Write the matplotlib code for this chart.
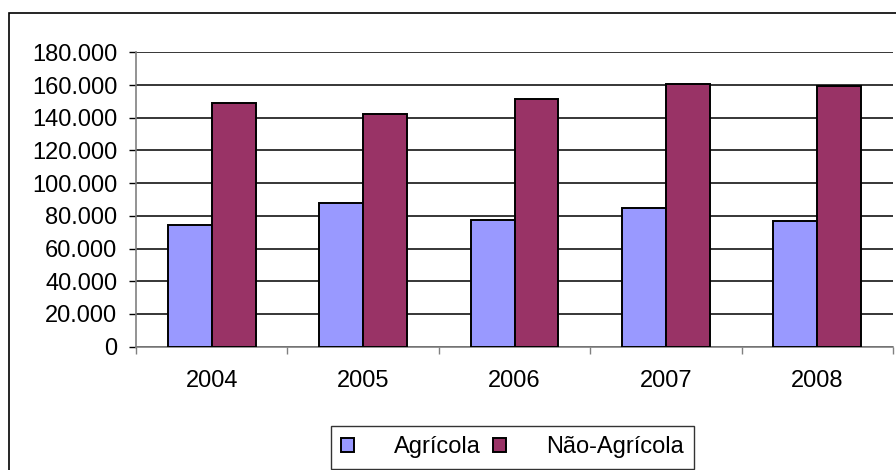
import matplotlib
matplotlib.use("Agg")
import matplotlib.pyplot as plt
import numpy as np
from matplotlib.ticker import FuncFormatter, FixedLocator
from matplotlib.patches import Rectangle

years = ["2004", "2005", "2006", "2007", "2008"]
agricola = [74500, 88000, 77700, 84700, 76700]
nao_agricola = [149200, 142100, 151300, 160600, 159300]
series_names = ["Agrícola", "Não-Agrícola"]
yticks = [0, 20000, 40000, 60000, 80000, 100000, 120000, 140000, 160000, 180000]

plt.rcParams['font.family'] = ['Liberation Sans', 'DejaVu Sans']
FS = 17

fig = plt.figure(figsize=(8.96, 4.70), dpi=100)
top_frac = 1 - 13/470
fig.patches.append(Rectangle((8.5/896, -0.5), 2, top_frac + 0.5, transform=fig.transFigure,
                             fill=False, edgecolor='black', linewidth=1.2, zorder=0))

ax = fig.add_axes([136/896, 1 - 346.7/470, (893 - 136)/896, (346.7 - 52.3)/470])

x = np.arange(len(years))
w = 0.29
ax.bar(x - w/2, agricola, width=w, color='#9999FF', edgecolor='black', linewidth=1.4,
       label=series_names[0], zorder=3)
ax.bar(x + w/2, nao_agricola, width=w, color='#993366', edgecolor='black', linewidth=1.4,
       label=series_names[1], zorder=3)

ax.set_xlim(-0.5, len(years) - 0.5)
ax.set_ylim(0, 180000)
ax.set_yticks(yticks)
ax.yaxis.set_major_formatter(FuncFormatter(lambda v, p: f"{int(v):,}".replace(",", ".")))
ax.yaxis.grid(True, color='black', linewidth=1.1, zorder=0)
ax.set_axisbelow(True)

ax.set_xticks(x)
ax.set_xticklabels(years)
ax.xaxis.set_minor_locator(FixedLocator(np.arange(len(years) + 1) - 0.5))
ax.tick_params(axis='x', which='major', length=0, pad=17, labelsize=FS)
ax.tick_params(axis='x', which='minor', length=5, width=1, color='#808080', direction='out')
ax.tick_params(axis='y', length=5, width=1, color='black', pad=8.5, labelsize=FS)

for s in ['top', 'right']:
    ax.spines[s].set_visible(False)
ax.spines['left'].set_color('#808080')
ax.spines['left'].set_linewidth(1.2)
ax.spines['bottom'].set_color('#808080')
ax.spines['bottom'].set_linewidth(1.2)

leg = fig.legend(loc='center', bbox_to_anchor=(512.5/896, 1 - 447.5/470), ncol=2,
                 fontsize=FS, frameon=True, fancybox=False, handlelength=0.55,
                 handleheight=0.55, handletextpad=1.7, columnspacing=0.5,
                 borderpad=0.45, borderaxespad=0)
leg.get_frame().set_edgecolor('black')
leg.get_frame().set_linewidth(1.0)

fig.savefig("out.png", dpi=100)
